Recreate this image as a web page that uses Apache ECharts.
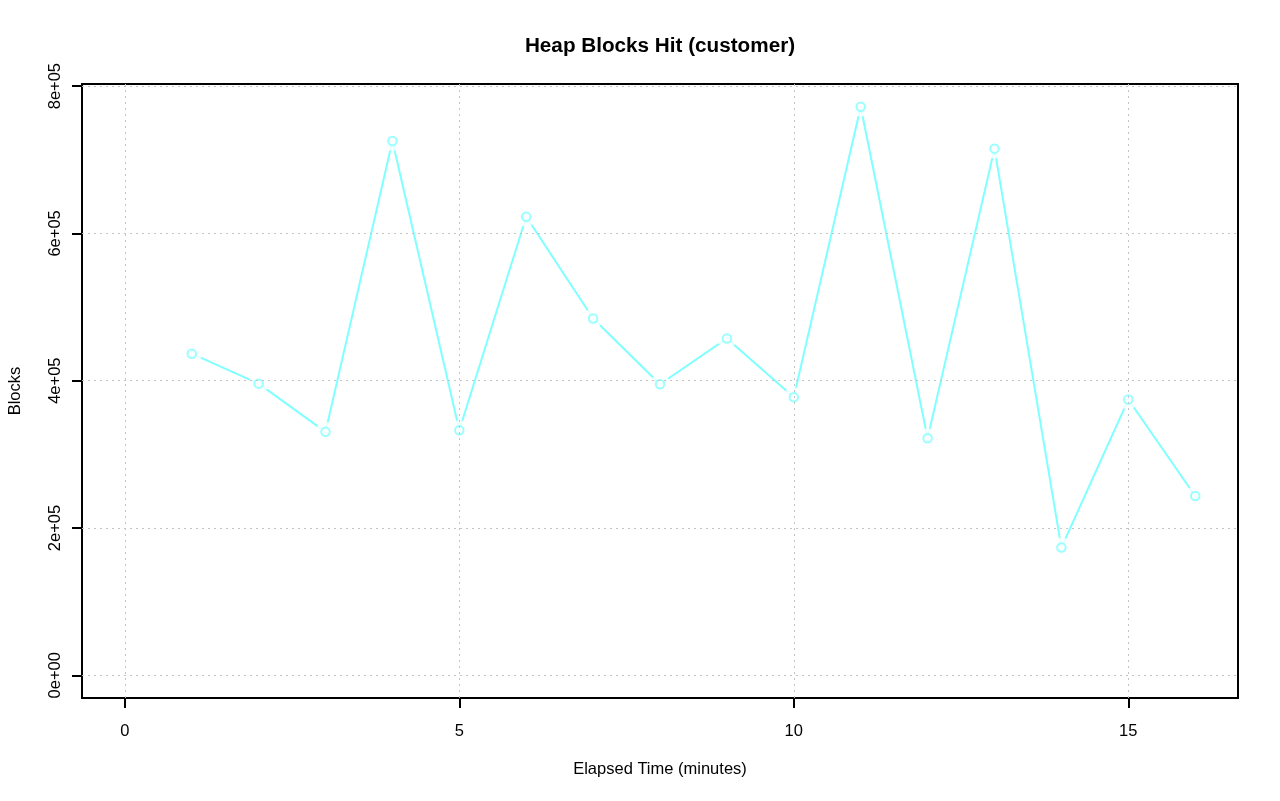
<!DOCTYPE html>
<html>
<head>
<meta charset="utf-8">
<script src="https://cdn.jsdelivr.net/npm/echarts@6/dist/echarts.min.js"></script>
<style>html,body{margin:0;padding:0;background:#fff;}#c{width:1280px;height:801px;}</style>
</head>
<body>
<div id="c"></div>
<script>
const minutes = [1, 2, 3, 4, 5, 6, 7, 8, 9, 10, 11, 12, 13, 14, 15, 16];
const blocks = [436700, 396000, 330500, 725500, 332800, 622600, 484500, 395100, 457400, 377500, 772000, 321900, 715100, 173400, 374400, 243400];
const xTicks = [0, 5, 10, 15];
const yTicks = [0, 200000, 400000, 600000, 800000];
const yTickLabels = ['0e+00', '2e+05', '4e+05', '6e+05', '8e+05'];

const xlim = [0, 16];
const ylim = [0, Math.max.apply(null, blocks)];
const ext = (a) => { const d = (a[1] - a[0]) * 0.04; return [a[0] - d, a[1] + d]; };
const xr = ext(xlim), yr = ext(ylim);
const pts = minutes.map((m, i) => [m, blocks[i]]);
const cyan = '#80FFFF';
const font = 'Liberation Sans, Arial, Helvetica, sans-serif';
const gridStyle = { color: '#C4C4C4', width: 1, type: [2, 4] };

const chart = echarts.init(document.getElementById('c'));
chart.setOption({
  animation: false,
  backgroundColor: '#fff',
  title: {
    text: 'Heap Blocks Hit (customer)', left: 655, top: 31, textAlign: 'center',
    textStyle: { fontFamily: font, fontWeight: 'bold', fontSize: 20.7, color: '#000' }
  },
  grid: { left: 82, right: 42, top: 84, bottom: 103, show: true, borderColor: '#000', borderWidth: 2, backgroundColor: 'transparent', containLabel: false, outerBoundsMode: 'none' },
  xAxis: {
    type: 'value', min: xr[0], max: xr[1],
    name: 'Elapsed Time (minutes)', nameLocation: 'middle', nameGap: 63,
    nameTextStyle: { fontFamily: font, fontSize: 16.5, color: '#000' },
    axisLine: { show: false, onZero: false },
    axisTick: { show: true, length: 10, customValues: xTicks, lineStyle: { color: '#000', width: 2 } },
    axisLabel: { customValues: xTicks, margin: 25, fontFamily: font, fontSize: 16.5, color: '#000' },
    splitLine: { show: false }
  },
  yAxis: {
    type: 'value', min: yr[0], max: yr[1],
    name: 'Blocks', nameLocation: 'middle', nameGap: 58,
    nameTextStyle: { fontFamily: font, fontSize: 16.5, color: '#000' },
    axisLine: { show: false, onZero: false },
    axisTick: { show: true, length: 10, customValues: yTicks, lineStyle: { color: '#000', width: 2 } },
    axisLabel: {
      customValues: yTicks, rotate: 90, margin: 18, fontFamily: font, fontSize: 16.5, color: '#000',
      formatter: (v) => { const i = yTicks.indexOf(v); return i >= 0 ? yTickLabels[i] : ''; }
    },
    splitLine: { show: false }
  },
  series: [
    {
      type: 'line', data: pts, symbol: 'none', z: 1,
      lineStyle: { color: cyan, width: 2 }, silent: true
    },
    {
      type: 'scatter', data: pts, symbol: 'circle', symbolSize: 20, z: 2,
      itemStyle: { color: '#fff', borderWidth: 0 }, silent: true
    },
    {
      type: 'line', data: [], z: 3, silent: true,
      markLine: {
        silent: true, symbol: ['none', 'none'], label: { show: false },
        lineStyle: gridStyle, animation: false,
        data: xTicks.map(v => ({ xAxis: v })).concat(yTicks.map(v => ({ yAxis: v })))
      }
    },
    {
      type: 'scatter', data: pts, symbol: 'circle', symbolSize: 8.5, z: 4,
      itemStyle: { color: '#fff', borderColor: cyan, borderWidth: 2 }, silent: true
    }
  ]
});
</script>
</body>
</html>
